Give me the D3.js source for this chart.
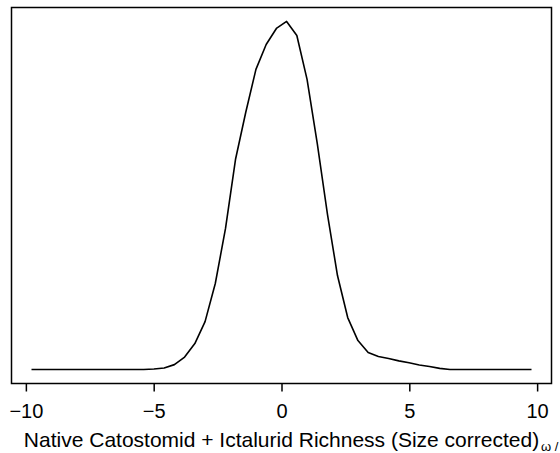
<!DOCTYPE html>
<html>
<head>
<meta charset="utf-8">
<script src="https://cdn.jsdelivr.net/npm/d3@7"></script>
<style>
  html, body { margin: 0; padding: 0; background: #fff; }
  svg { display: block; }
  text { font-family: "Liberation Sans", Arial, Helvetica, sans-serif; fill: #000; }
</style>
</head>
<body>
<svg id="chart" width="560" height="453"></svg>
<script>
// Density estimate: evaluation points (x) and density values (y)
const xValues = [-9.78, -9.38, -8.98, -8.58, -8.18, -7.79, -7.39, -6.99, -6.59, -6.19,
                 -5.79, -5.39, -4.99, -4.59, -4.19, -3.79, -3.39, -2.99, -2.59, -2.19,
                 -1.80, -1.40, -1.00, -0.60, -0.20, 0.20, 0.60, 1.00, 1.40, 1.80,
                 2.19, 2.59, 2.99, 3.39, 3.79, 4.19, 4.59, 4.99, 5.39, 5.79,
                 6.19, 6.59, 6.99, 7.39, 7.79, 8.18, 8.58, 8.98, 9.38, 9.78];
const densityValues = [0.0000, 0.0000, 0.0000, 0.0000, 0.0000, 0.0000, 0.0000, 0.0000, 0.0000, 0.0000,
                       0.0000, 0.0000, 0.0004, 0.0012, 0.0038, 0.0096, 0.0200, 0.0369, 0.0662, 0.1085,
                       0.1615, 0.1977, 0.2308, 0.2500, 0.2623, 0.2677, 0.2569, 0.2231, 0.1738, 0.1192,
                       0.0723, 0.0400, 0.0223, 0.0131, 0.0100, 0.0085, 0.0067, 0.0052, 0.0035, 0.0023,
                       0.0009, 0.0000, 0.0000, 0.0000, 0.0000, 0.0000, 0.0000, 0.0000, 0.0000, 0.0000];
const xTicks = [-10, -5, 0, 5, 10];
const xLabel = "Native Catostomid + Ictalurid Richness (Size corrected)";
const cornerText = "ω /";

const data = xValues.map((x, i) => ({ x: x, y: densityValues[i] }));

const svg = d3.select("#chart");
const plot = { left: 11.5, right: 551.5, top: 7.5, bottom: 383.5 };

// R-style 4% axis extension
const xExt = d3.extent(xValues);
const xPad = (xExt[1] - xExt[0]) * 0.04;
const yExt = [d3.min(densityValues), d3.max(densityValues)];
const yPad = (yExt[1] - yExt[0]) * 0.04;

const x = d3.scaleLinear().domain([xExt[0] - xPad, xExt[1] + xPad]).range([plot.left, plot.right]);
const y = d3.scaleLinear().domain([yExt[0] - yPad, yExt[1] + yPad]).range([plot.bottom, plot.top]);

// Density curve
const line = d3.line().x(d => x(d.x)).y(d => y(d.y));
svg.append("path")
  .datum(data)
  .attr("d", line)
  .attr("fill", "none")
  .attr("stroke", "#000")
  .attr("stroke-width", 1.6)
  .attr("stroke-linejoin", "round");

// Box
svg.append("rect")
  .attr("x", plot.left).attr("y", plot.top)
  .attr("width", plot.right - plot.left)
  .attr("height", plot.bottom - plot.top)
  .attr("fill", "none")
  .attr("stroke", "#000")
  .attr("stroke-width", 1.5);

// X axis
const xAxis = d3.axisBottom(x)
  .tickValues(xTicks)
  .tickSize(8)
  .tickPadding(12)
  .tickFormat(d => (d < 0 ? "\u2212" + Math.abs(d) : String(d)));
const gx = svg.append("g")
  .attr("transform", `translate(0,${plot.bottom})`)
  .call(xAxis);
gx.select(".domain").remove();
gx.selectAll(".tick line").attr("stroke", "#000").attr("stroke-width", 1.5);
gx.selectAll(".tick text")
  .attr("font-family", "Liberation Sans, Arial, sans-serif")
  .attr("font-size", 20)
  .attr("fill", "#000");

// X label
svg.append("text")
  .attr("x", (plot.left + plot.right) / 2)
  .attr("y", 447)
  .attr("text-anchor", "middle")
  .attr("font-size", 21)
  .text(xLabel);

// Corner text (partly hidden in the reference; kept inside the page here)
svg.append("text")
  .attr("x", 541)
  .attr("y", 451)
  .attr("font-size", 13)
  .text(cornerText);
</script>
</body>
</html>
